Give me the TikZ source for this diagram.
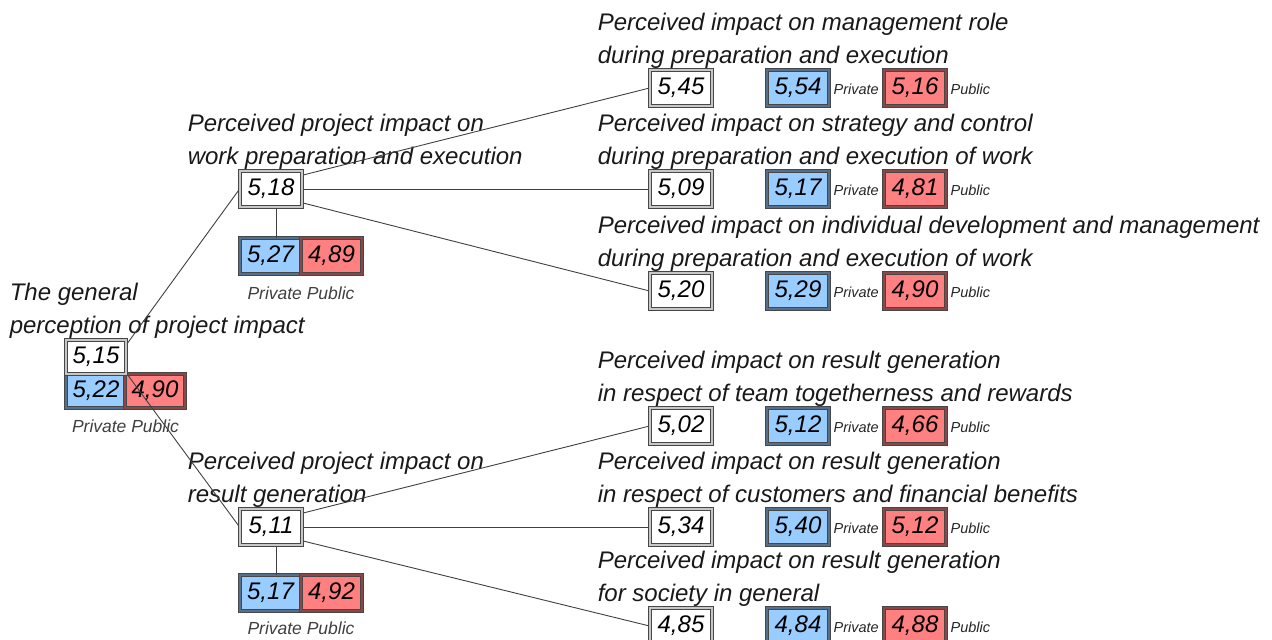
\documentclass[tikz,border=0pt]{standalone}
\usepackage{fontspec}
\setmainfont{Liberation Sans}
\usetikzlibrary{calc}
\pgfdeclarelayer{bg}
\pgfsetlayers{bg,main}
\definecolor{privblue}{RGB}{153,204,255}
\definecolor{pubred}{RGB}{255,128,128}

\begin{document}
\begin{tikzpicture}[x=1pt,y=-1pt,
  valbox/.style={draw=black!72, line width=0.85pt, double distance=1.4pt,
    minimum width=62pt, minimum height=36pt, inner sep=0pt,
    font=\fontsize{24}{28}\selectfont\itshape},
  overall/.style={valbox, double=black!22, fill=white},
  privbox/.style={valbox, fill=privblue, double=privblue!55!black},
  pubbox/.style={valbox, fill=pubred, double=pubred!55!black},
  small/.style={minimum width=60pt, minimum height=34pt},
  caption/.style={anchor=base west, inner sep=0pt,
    font=\fontsize{24}{28}\selectfont\itshape, text=black!90},
  keylabel/.style={anchor=base west, inner sep=0pt,
    font=\fontsize{14.5}{16}\selectfont\itshape, text=black!85},
  pairlabel/.style={anchor=base, inner sep=0pt,
    font=\fontsize{17.5}{20}\selectfont\itshape, text=black!75},
  link/.style={draw=black!75, line width=0.9pt}]

\useasboundingbox (0,0) rectangle (1272,640);

% overall values (white boxes, on top)
\node[overall, small] (g) at (96,357) {5,15};
\node[overall] (w) at (271,189) {5,18};
\node[overall] (r) at (271,527) {5,11};
\foreach \i/\y/\v in {1/88/{5,45},2/189/{5,09},3/291/{5,20},
                      4/426/{5,02},5/527/{5,34},6/626/{4,85}}
  \node[overall] (t\i) at (681,\y) {\v};

\begin{pgfonlayer}{bg}
% captions
\node[caption] (gc1) at ($(g.north west)+(-56,-39)$) {The general};
\node[caption] (gc2) at ($(g.north west)+(-56,-6)$) {perception of project impact};
\node[caption] (wc1) at ($(w.north west)+(-52,-39)$) {Perceived project impact on};
\node[caption] (wc2) at ($(w.north west)+(-52,-6)$) {work preparation and execution};
\node[caption] (rc1) at ($(r.north west)+(-52,-39)$) {Perceived project impact on};
\node[caption] (rc2) at ($(r.north west)+(-52,-6)$) {result generation};

\foreach \i/\a/\b in {
  1/{Perceived impact on management role}/{during preparation and execution},
  2/{Perceived impact on strategy and control}/{during preparation and execution of work},
  3/{Perceived impact on individual development and management}/{during preparation and execution of work},
  4/{Perceived impact on result generation}/{in respect of team togetherness and rewards},
  5/{Perceived impact on result generation}/{in respect of customers and financial benefits},
  6/{Perceived impact on result generation}/{for society in general}}{
  \node[caption] (ta\i) at ($(t\i.north west)+(-52,-39)$) {\a};
  \node[caption] (tb\i) at ($(t\i.north west)+(-52,-6)$) {\b};
}

% private / public split, left column
\node[privbox, small] (gp) at (96,391) {5,22};
\node[pubbox, small] (gq) at (155,391) {4,90};
\node[pairlabel] (gl) at (125.5,432) {Private Public};

\node[privbox, minimum width=61pt] (wp) at (270.5,256) {5,27};
\node[pubbox, minimum width=61pt] (wq) at (331.5,256) {4,89};
\node[pairlabel] (wl) at (301,299) {Private Public};

\node[privbox, minimum width=61pt] (rp) at (270.5,593) {5,17};
\node[pubbox, minimum width=61pt] (rq) at (331.5,593) {4,92};
\node[pairlabel] (rl) at (301,634) {Private Public};

% private / public split, right column
\foreach \i/\y/\p/\q in {1/88/{5,54}/{5,16},2/189/{5,17}/{4,81},3/291/{5,29}/{4,90},
                         4/426/{5,12}/{4,66},5/527/{5,40}/{5,12},6/626/{4,84}/{4,88}}{
  \node[privbox] (p\i) at (798,\y) {\p};
  \node[keylabel] (pl\i) at ($(p\i.east)+(4,6)$) {Private};
  \node[pubbox] (q\i) at (915,\y) {\q};
  \node[keylabel] (ql\i) at ($(q\i.east)+(4,6)$) {Public};
}

% connectors
\coordinate (hub) at ($(g.center)+(20,2)$);
\draw[link] (hub) -- (w.west);
\draw[link] (hub) -- (r.west);

\draw[link] ($(w.east)!0.75!(w.north east)$) -- (t1.west);
\draw[link] (w.east) -- (t2.west);
\draw[link] ($(w.east)!0.75!(w.south east)$) -- (t3.west);
\draw[link] ([xshift=5pt]w.south) -- ([xshift=5pt]w.south |- wp.north);

\draw[link] ($(r.east)!0.75!(r.north east)$) -- (t4.west);
\draw[link] (r.east) -- (t5.west);
\draw[link] ($(r.east)!0.75!(r.south east)$) -- (t6.west);
\draw[link] ([xshift=5pt]r.south) -- ([xshift=5pt]r.south |- rp.north);
\end{pgfonlayer}
\end{tikzpicture}
\end{document}
